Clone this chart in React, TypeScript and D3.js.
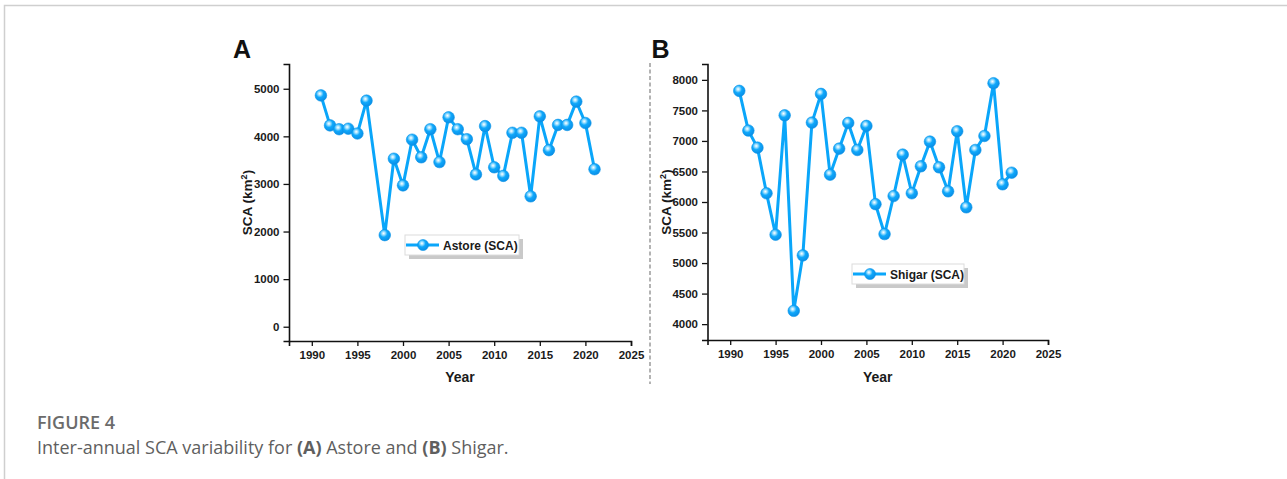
import React, { useRef, useEffect } from "react";
import * as d3 from "d3";

// Astore has no 1997 value in the figure
const astoreYears = [1991, 1992, 1993, 1994, 1995, 1996, 1998, 1999, 2000, 2001, 2002, 2003, 2004, 2005, 2006, 2007, 2008, 2009, 2010, 2011, 2012, 2013, 2014, 2015, 2016, 2017, 2018, 2019, 2020, 2021];
const astoreSCA = [4860, 4230, 4150, 4160, 4060, 4750, 1925, 3530, 2970, 3930, 3560, 4150, 3460, 4400, 4150, 3940, 3200, 4215, 3350, 3170, 4075, 4075, 2740, 4420, 3710, 4240, 4240, 4730, 4280, 3310];

const shigarYears = [1991, 1992, 1993, 1994, 1995, 1996, 1997, 1998, 1999, 2000, 2001, 2002, 2003, 2004, 2005, 2006, 2007, 2008, 2009, 2010, 2011, 2012, 2013, 2014, 2015, 2016, 2017, 2018, 2019, 2020, 2021];
const shigarSCA = [7820, 7170, 6890, 6143, 5464, 7420, 4218, 5126, 7300, 7770, 6448, 6874, 7295, 6852, 7246, 5965, 5475, 6098, 6776, 6143, 6585, 6989, 6568, 6175, 7159, 5913, 6852, 7082, 7945, 6290, 6480];

const xTicks = [1990, 1995, 2000, 2005, 2010, 2015, 2020, 2025];
const astoreTicks = [0, 1000, 2000, 3000, 4000, 5000];
const shigarTicks = [4000, 4500, 5000, 5500, 6000, 6500, 7000, 7500, 8000];

const lineColor = "#0aa6fa";
const font = "'Liberation Sans', Arial, sans-serif";

function App() {
  const svgRef = useRef(null);

  useEffect(() => {
    const svg = d3.select(svgRef.current);
    svg.selectAll("*").remove();

    //ball gradient for the markers
    const grad = svg
      .append("defs")
      .append("radialGradient")
      .attr("id", "ball")
      .attr("cx", "40%")
      .attr("cy", "35%")
      .attr("r", "65%");
    grad.append("stop").attr("offset", "0%").attr("stop-color", "#ffffff");
    grad.append("stop").attr("offset", "20%").attr("stop-color", "#a8e3ff");
    grad.append("stop").attr("offset", "50%").attr("stop-color", "#0fa8fb");
    grad.append("stop").attr("offset", "100%").attr("stop-color", "#0a8ee6");

    //frame of the page
    svg
      .append("path")
      .attr("d", "M4.5,479 V5.5 H1287")
      .attr("fill", "none")
      .attr("stroke", "#cfcfcf")
      .attr("stroke-width", 1.5);

    //dashed separator
    svg
      .append("line")
      .attr("x1", 650)
      .attr("x2", 650)
      .attr("y1", 63)
      .attr("y2", 384)
      .attr("stroke", "#9a9a9a")
      .attr("stroke-width", 1.5)
      .attr("stroke-dasharray", "4,2.5");

    const panels = [
      {
        label: "A",
        name: "Astore (SCA)",
        years: astoreYears,
        values: astoreSCA,
        ticks: astoreTicks,
        minorStep: 500,
        x0: 289,
        x1: 631,
        y0: 341,
        y1: 64,
        yDomain: [-300, 5520],
        legend: [405, 235, 114],
      },
      {
        label: "B",
        name: "Shigar (SCA)",
        years: shigarYears,
        values: shigarSCA,
        ticks: shigarTicks,
        minorStep: 250,
        x0: 707.5,
        x1: 1048,
        y0: 340,
        y1: 64,
        yDomain: [3740, 8260],
        legend: [852, 264, 112],
      },
    ];

    panels.forEach((p) => {
      const x = d3.scaleLinear().domain([1987.5, 2025]).range([p.x0, p.x1]);
      const y = d3.scaleLinear().domain(p.yDomain).range([p.y0, p.y1]);
      const g = svg.append("g");

      //x axis
      const xMinor = d3.range(1987.5, 2025, 5);
      const gx = g.append("g").attr("transform", `translate(0,${p.y0})`);
      gx.call(d3.axisBottom(x).tickValues(xMinor).tickSize(3.5).tickFormat(() => ""));
      gx.call(
        d3.axisBottom(x).tickValues(xTicks).tickSize(5).tickPadding(5).tickFormat(d3.format("d"))
      );
      //y axis
      const yMinor = d3
        .range(Math.ceil(p.yDomain[0] / p.minorStep) * p.minorStep, p.yDomain[1], p.minorStep)
        .filter((v) => !p.ticks.includes(v));
      const gy = g.append("g").attr("transform", `translate(${p.x0},0)`);
      gy.call(d3.axisLeft(y).tickValues(yMinor).tickSize(3.5).tickFormat(() => ""));
      gy.call(d3.axisLeft(y).tickValues(p.ticks).tickSize(5.5).tickPadding(4).tickFormat(d3.format("d")));

      g.selectAll(".domain").attr("stroke", "#111").attr("stroke-width", 1.6);
      g.selectAll(".tick line").attr("stroke", "#111").attr("stroke-width", 1.3);
      g.selectAll(".tick text")
        .attr("fill", "#1a1a1a")
        .style("font", `bold 11.5px ${font}`);

      //axis titles
      g.append("text")
        .attr("x", (p.x0 + p.x1) / 2)
        .attr("y", 382)
        .attr("text-anchor", "middle")
        .style("font", `bold 14px ${font}`)
        .attr("fill", "#1a1a1a")
        .text("Year");

      const yt = g
        .append("text")
        .attr("transform", `translate(${p.x0 - 37},${(p.y0 + p.y1) / 2}) rotate(-90)`)
        .attr("text-anchor", "middle")
        .style("font", `bold 13.5px ${font}`)
        .attr("fill", "#1a1a1a");
      yt.append("tspan").text("SCA (km");
      yt.append("tspan").attr("dy", -5).style("font-size", "9px").text("2");
      yt.append("tspan").attr("dy", 5).text(")");

      //panel letter
      g.append("text")
        .attr("x", p.x0 - 56)
        .attr("y", 58)
        .style("font", `bold 25px ${font}`)
        .attr("fill", "#111")
        .text(p.label);

      //series line
      const pts = p.years.map((yr, i) => [x(yr), y(p.values[i])]);
      g.append("path")
        .attr("d", d3.line()(pts))
        .attr("fill", "none")
        .attr("stroke", lineColor)
        .attr("stroke-width", 3)
        .attr("stroke-linejoin", "round");

      g.selectAll("circle.pt")
        .data(pts)
        .join("circle")
        .attr("class", "pt")
        .attr("cx", (d) => d[0])
        .attr("cy", (d) => d[1])
        .attr("r", 5.8)
        .attr("fill", "url(#ball)")
        .attr("stroke", "#0a93e8")
        .attr("stroke-width", 0.6);

      //legend with drop shadow
      const [lx, ly, lw] = p.legend;
      const lg = g.append("g").attr("transform", `translate(${lx},${ly})`);
      lg.append("rect").attr("x", 4).attr("y", 4).attr("width", lw).attr("height", 20).attr("fill", "#c9c9c9");
      lg.append("rect")
        .attr("width", lw)
        .attr("height", 20)
        .attr("fill", "#fff")
        .attr("stroke", "#dcdcdc")
        .attr("stroke-width", 1);
      lg.append("line")
        .attr("x1", 1)
        .attr("x2", 34)
        .attr("y1", 10)
        .attr("y2", 10)
        .attr("stroke", lineColor)
        .attr("stroke-width", 3);
      lg.append("circle").attr("cx", 18).attr("cy", 10).attr("r", 5.5).attr("fill", "url(#ball)")
        .attr("stroke", "#0a93e8").attr("stroke-width", 0.6);
      lg.append("text")
        .attr("x", 38)
        .attr("y", 14.5)
        .style("font", `bold 12px ${font}`)
        .attr("fill", "#1a1a1a")
        .text(p.name);
    });

    //caption
    svg
      .append("text")
      .attr("x", 37)
      .attr("y", 428.5)
      .style("font", "600 18px 'Open Sans', 'Noto Sans', sans-serif")
      .attr("fill", "#6b6b6b")
      .text("FIGURE 4");

    const cap = svg
      .append("text")
      .attr("x", 37)
      .attr("y", 453.5)
      .style("font", "18px 'Open Sans', 'Noto Sans', sans-serif")
      .attr("fill", "#5f5f5f");
    cap.append("tspan").text("Inter-annual SCA variability for ");
    cap.append("tspan").style("font-weight", "bold").text("(A)");
    cap.append("tspan").text(" Astore and ");
    cap.append("tspan").style("font-weight", "bold").text("(B)");
    cap.append("tspan").text(" Shigar.");
  }, []);

  return (
    <svg
      ref={svgRef}
      width={1287}
      height={479}
      style={{ position: "absolute", left: 0, top: 0, background: "#fff" }}
    ></svg>
  );
}

export default App;
